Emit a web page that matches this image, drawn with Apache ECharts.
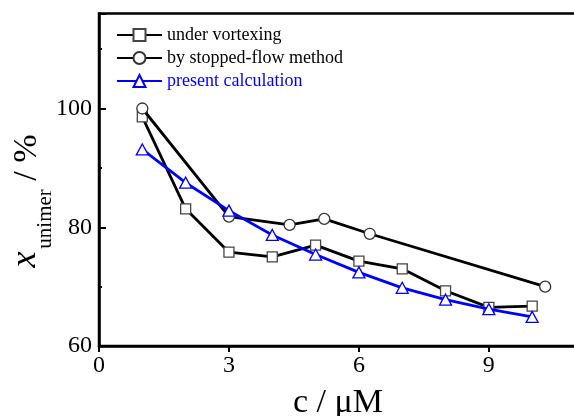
<!DOCTYPE html>
<html>
<head>
<meta charset="utf-8">
<script src="https://cdn.jsdelivr.net/npm/echarts@6/dist/echarts.min.js"></script>
<style>
html,body{margin:0;padding:0;background:#fff;}
#chart{width:574px;height:416px;}
</style>
</head>
<body>
<div id="chart"></div>
<script>
// Data
var vortexX = [1, 2, 3, 4, 5, 6, 7, 8, 9, 10];
var vortexY = [98.6, 83.1, 75.8, 75.0, 77.0, 74.3, 73.0, 69.3, 66.5, 66.7];
var flowX = [1, 3, 4.4, 5.2, 6.25, 10.3];
var flowY = [100, 81.8, 80.4, 81.4, 78.9, 70.0];
var calcX = [1, 2, 3, 4, 5, 6, 7, 8, 9, 10];
var calcY = [93.1, 87.5, 82.8, 78.7, 75.4, 72.4, 69.8, 67.8, 66.2, 64.9];
var seriesNames = ['under vortexing', 'by stopped-flow method', 'present calculation'];
var xTicks = [0, 3, 6, 9];
var yTicks = [60, 80, 100];

function pairs(xs, ys) { return xs.map(function (x, i) { return [x, ys[i]]; }); }

var FONT = '"Liberation Serif", "Times New Roman", serif';
var chart = echarts.init(document.getElementById('chart'), null, {renderer: 'canvas'});

chart.setOption({
  animation: false,
  backgroundColor: '#fff',
  textStyle: {fontFamily: FONT},
  grid: {left: 99, width: 476.5, top: 13.5, height: 332.5, show: true, borderColor: '#000', borderWidth: 2.5, containLabel: false, outerBoundsMode: 'none'},
  legend: {
    orient: 'vertical', left: 116, top: 26, padding: 0,
    itemWidth: 45, itemHeight: 15, itemGap: 5,
    textStyle: {fontFamily: FONT, fontSize: 18, color: '#000', padding: [0, 0, 0, 0]},
    data: [
      {name: seriesNames[0]},
      {name: seriesNames[1]},
      {name: seriesNames[2], textStyle: {color: '#0000ff'}}
    ]
  },
  xAxis: {
    type: 'value', min: 0, max: 11, interval: 3,
    axisLine: {show: true, lineStyle: {color: '#000', width: 2.5}},
    axisTick: {show: true, inside: false, length: 6, lineStyle: {color: '#000', width: 2}},
    axisLabel: {
      fontFamily: FONT, fontSize: 24, color: '#000', margin: 8,
      formatter: function (v) { return xTicks.indexOf(v) >= 0 ? String(v) : ''; }
    },
    splitLine: {show: false}
  },
  yAxis: [{
    type: 'value', min: 60, max: 116, interval: 20,
    axisLine: {show: true, lineStyle: {color: '#000', width: 2.5}},
    axisTick: {show: true, inside: true, length: 7, lineStyle: {color: '#000', width: 2}},
    axisLabel: {
      fontFamily: FONT, fontSize: 24, color: '#000', margin: 7,
      formatter: function (v) { return yTicks.indexOf(v) >= 0 ? String(v) : ''; }
    },
    splitLine: {show: false}
  }, {
    type: 'value', min: 60, max: 116, interval: 10, position: 'left',
    axisLine: {show: false},
    axisTick: {show: true, inside: true, length: 3, lineStyle: {color: '#000', width: 2}},
    axisLabel: {show: false},
    splitLine: {show: false}
  }],
  graphic: [{
    type: 'text', x: 38, y: 201, rotation: Math.PI / 2,
    style: {
      text: '{x|x}{sub|unimer}{n| / %}',
      align: 'center', verticalAlign: 'middle',
      rich: {
        x: {fontFamily: FONT, fontStyle: 'italic', fontSize: 36, fill: '#000', verticalAlign: 'bottom', lineHeight: 36, padding: [0, 0, 12, 0]},
        sub: {fontFamily: FONT, fontSize: 21, fill: '#000', verticalAlign: 'bottom', lineHeight: 21, padding: [0, 0, 0, 3]},
        n: {fontFamily: FONT, fontSize: 34, fill: '#000', verticalAlign: 'bottom', lineHeight: 34, padding: [0, 0, 12, 0]}
      }
    }
  }, {
    type: 'text', x: 338, y: 403,
    style: {text: 'c / \u03bcM', fontFamily: FONT, fontSize: 34, fill: '#000', align: 'center', verticalAlign: 'middle'}
  }],
  series: [{
    name: seriesNames[0], type: 'line', data: pairs(vortexX, vortexY),
    symbol: 'rect', symbolSize: 10, showAllSymbol: true,
    lineStyle: {color: '#000', width: 2.8},
    itemStyle: {color: '#fff', borderColor: '#444', borderWidth: 1.3},
    z: 2
  }, {
    name: seriesNames[1], type: 'line', data: pairs(flowX, flowY),
    symbol: 'circle', symbolSize: 11, showAllSymbol: true,
    lineStyle: {color: '#000', width: 2.8},
    itemStyle: {color: '#fff', borderColor: '#333', borderWidth: 1.3},
    z: 3
  }, {
    name: seriesNames[2], type: 'line', data: pairs(calcX, calcY),
    symbol: 'triangle', symbolSize: [12, 11], showAllSymbol: true,
    lineStyle: {color: '#0000ff', width: 2.8},
    itemStyle: {color: '#fff', borderColor: '#0000ff', borderWidth: 1.3},
    z: 4
  }]
});
</script>
</body>
</html>
